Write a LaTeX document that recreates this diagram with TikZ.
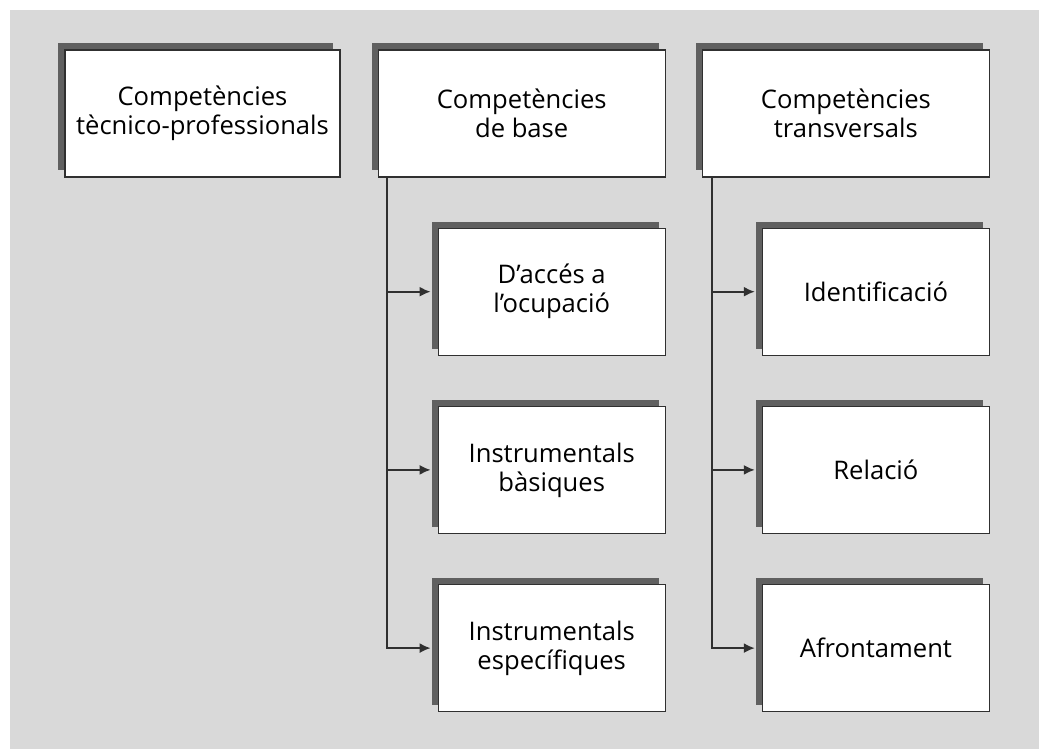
\documentclass[tikz,border=0pt]{standalone}
\usepackage{fontspec}
\setmainfont{Open Sans}
\usepackage{tikz}
\usetikzlibrary{arrows.meta,positioning,shadows}
\usepackage{xcolor}
\definecolor{CPBack}{HTML}{D9D9D9}
\definecolor{CPShadow}{HTML}{606060}
\definecolor{CPLine}{HTML}{303030}

\begin{document}
\begin{tikzpicture}[x=0.5pt,y=-0.5pt,node distance=25pt,
  cbox/.style={draw=CPLine,line width=0.6pt,fill=white,align=center,font=\fontsize{12.8}{14.5}\selectfont,
    drop shadow={shadow xshift=-3.3pt,shadow yshift=3.3pt,fill=CPShadow,opacity=1},
    minimum height=63.5pt,inner sep=0pt},
  topbox/.style={cbox,minimum width=143.5pt},
  subbox/.style={cbox,minimum width=113.5pt},
  ln/.style={draw=CPLine,line width=0.9pt},
  a/.style={ln,-{Latex[length=5.5pt,width=5pt]}}]
\fill[CPBack] (10,10) rectangle (1039,749);
\useasboundingbox (0,0) rectangle (1039,749);
\node[topbox,minimum width=137.5pt] (tec) at (202.5,113.5) {Competències\\tècnico-professionals};
\node[topbox,right=18.5pt of tec] (base) {Competències\\de base};
\node[topbox,right=18pt of base] (trans) {Competències\\transversals};
% competencies de base
\node[subbox,below=25pt of base.south east,anchor=north east] (acc) {D'accés a\\l'ocupació};
\node[subbox,below=of acc] (ibas) {Instrumentals\\bàsiques};
\node[subbox,below=of ibas] (iesp) {Instrumentals\\específiques};
% competencies transversals
\node[subbox,below=25pt of trans.south east,anchor=north east] (ident) {Identificació};
\node[subbox,below=of ident] (rel) {Relació};
\node[subbox,below=of rel] (afr) {Afrontament};
% connectors
\coordinate (bt) at ([xshift=4.5pt]base.south west);
\coordinate (tt) at ([xshift=5pt]trans.south west);
\draw[a] (bt) |- ([xshift=-3.5pt]iesp.west);
\draw[a] (bt |- acc.west) -- ([xshift=-3.5pt]acc.west);
\draw[a] (bt |- ibas.west) -- ([xshift=-3.5pt]ibas.west);
\draw[a] (tt) |- ([xshift=-3.5pt]afr.west);
\draw[a] (tt |- ident.west) -- ([xshift=-3.5pt]ident.west);
\draw[a] (tt |- rel.west) -- ([xshift=-3.5pt]rel.west);
\end{tikzpicture}
\end{document}
